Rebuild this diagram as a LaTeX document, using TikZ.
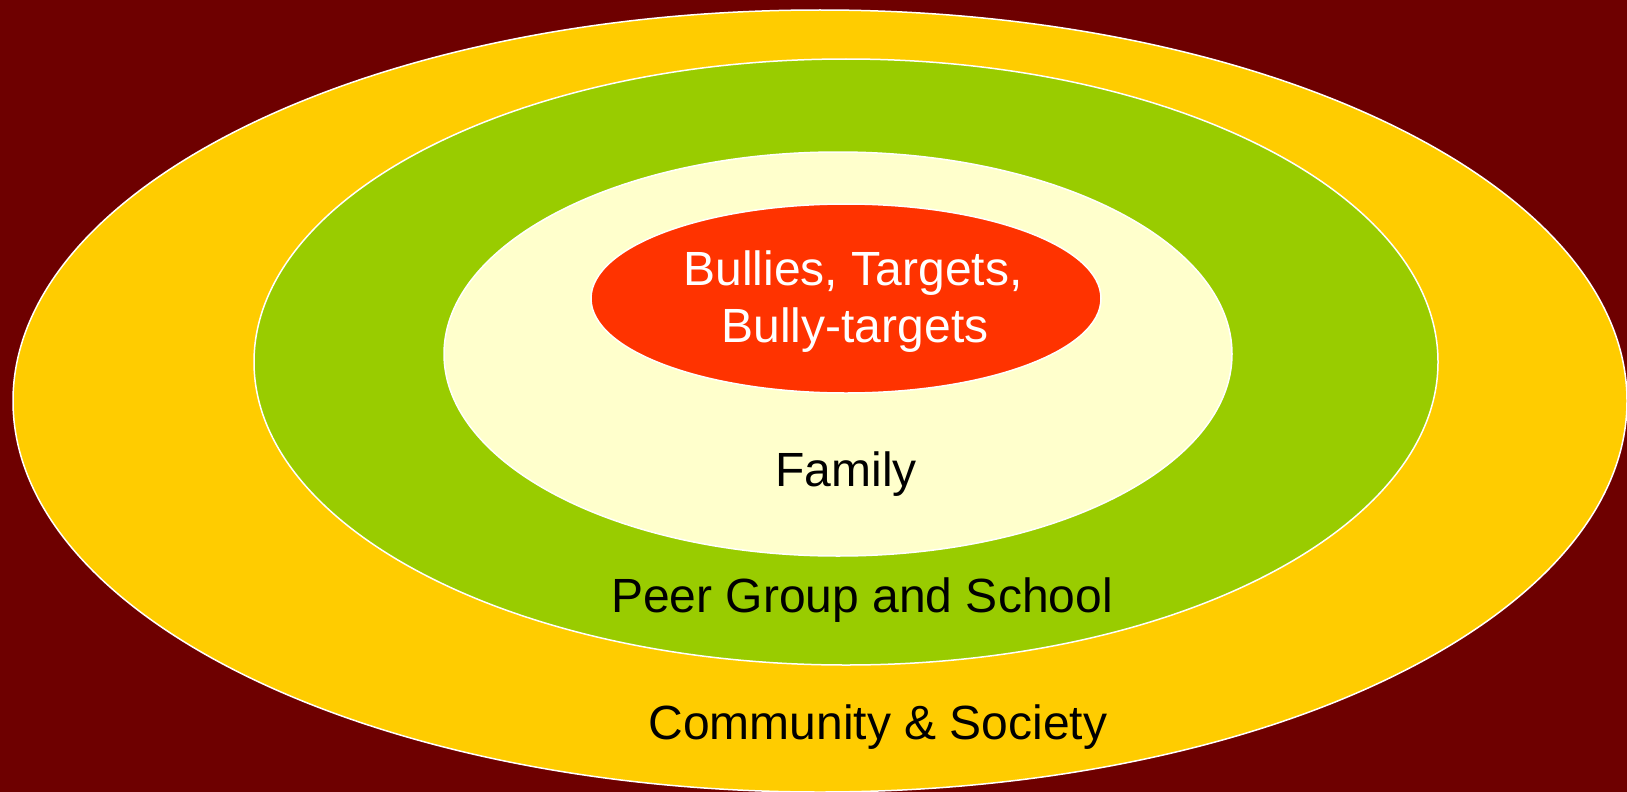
\documentclass[tikz,border=0pt]{standalone}
\usepackage{fontspec}
\setmainfont{Liberation Sans}
\definecolor{bg}{HTML}{6E0000}
\definecolor{ring1}{HTML}{FFCC00}
\definecolor{ring2}{HTML}{99CC00}
\definecolor{ring3}{HTML}{FFFFCC}
\definecolor{core}{HTML}{FF3300}
\tikzset{
  ring/.style={draw=white, line width=1.5pt},
  lbl/.style={anchor=base, inner sep=0pt, font=\fontsize{48}{57.6}\selectfont},
}
\begin{document}
\begin{tikzpicture}[x=1pt,y=-1pt]
\fill[bg] (0,0) rectangle (1627,792);
\useasboundingbox (0,0) rectangle (1627,792);
\filldraw[ring, fill=ring1] (820,401) ellipse [x radius=807, y radius=391];
\filldraw[ring, fill=ring2] (846,362) ellipse [x radius=592, y radius=303];
\filldraw[ring, fill=ring3] (838,354) ellipse [x radius=394, y radius=202];
\filldraw[ring, fill=core] (846,298.5) ellipse [x radius=255, y radius=94.5];
\node[lbl, text=white] (t1) at (853,285) {Bullies, Targets,};
\node[lbl, text=white] (t2) at (855,342) {Bully-targets};
\node[lbl] (fam) at (846,486) {Family};
\node[lbl] (peer) at (862,612) {Peer Group and School};
\node[lbl] (comm) at (878,739) {Community \& Society};
\end{tikzpicture}
\end{document}
